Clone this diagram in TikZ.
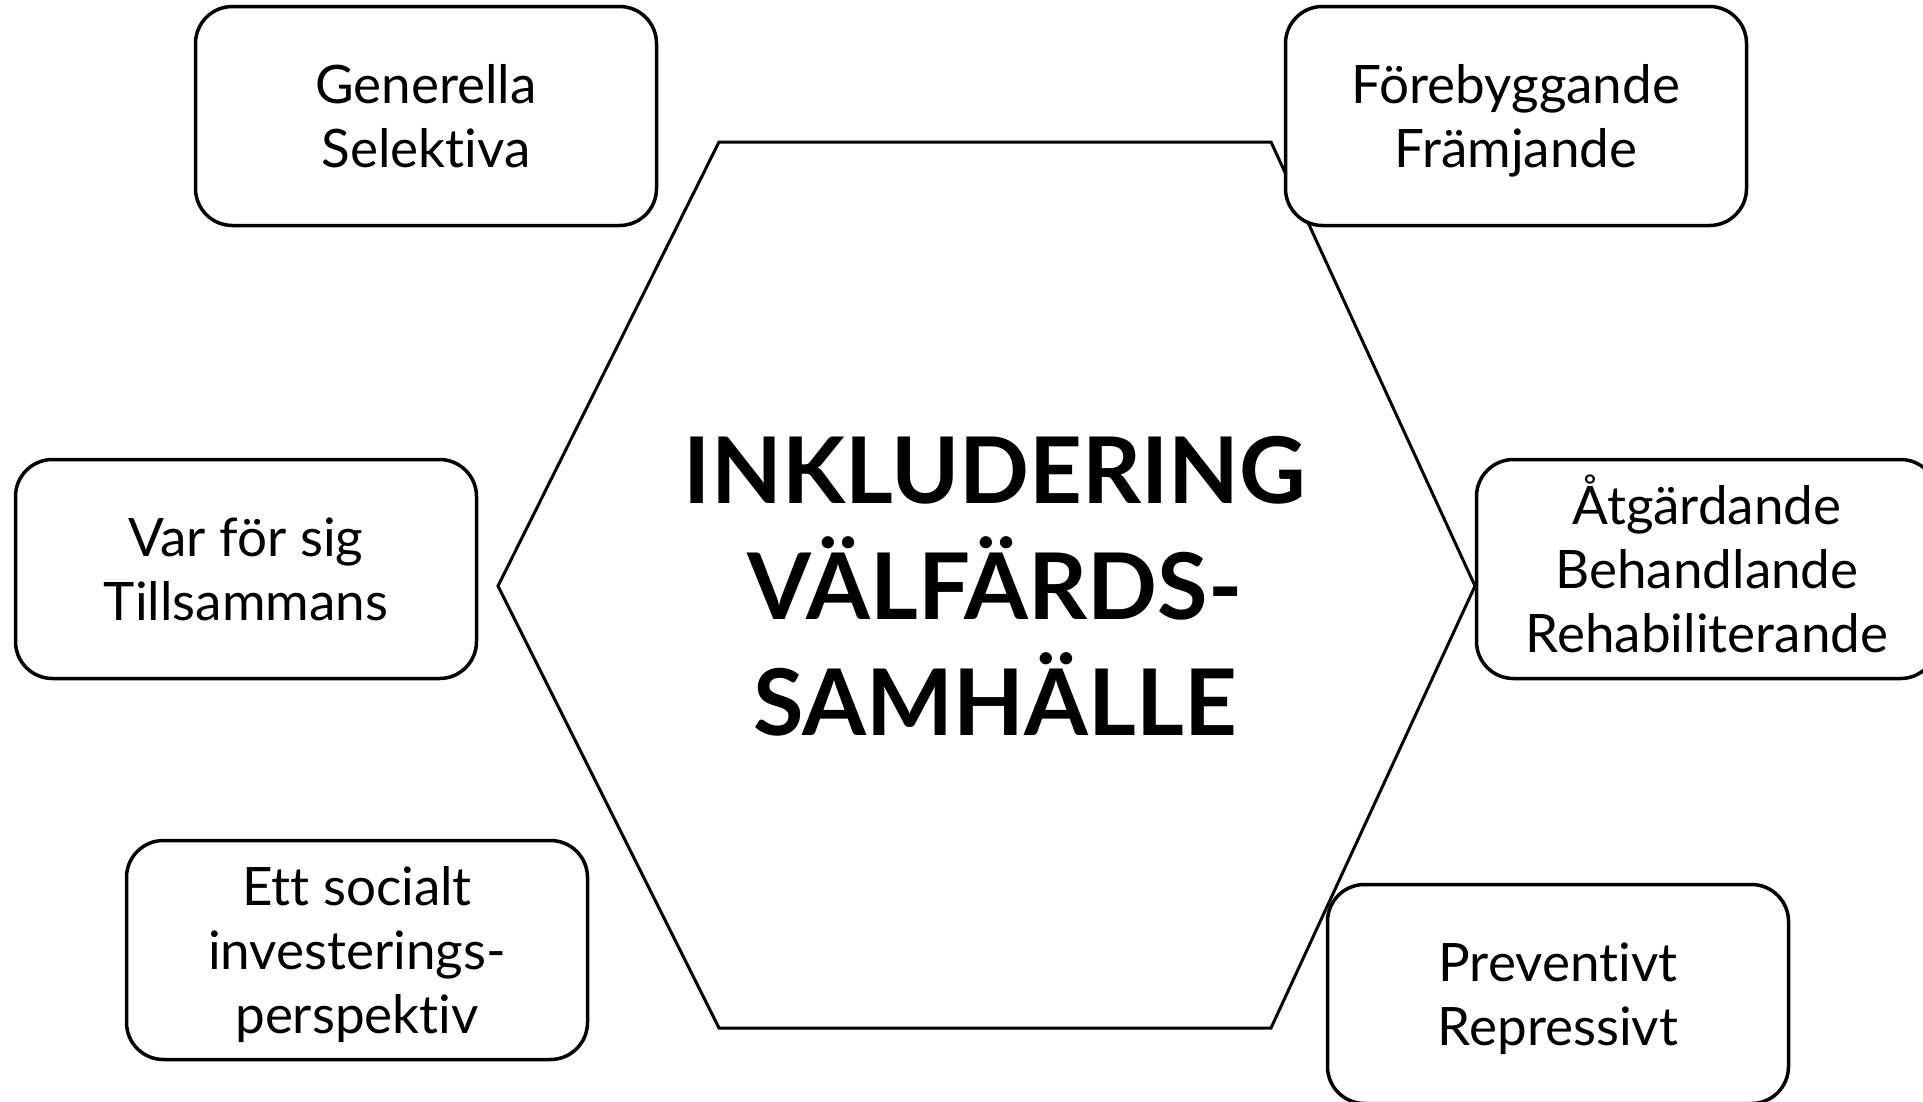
\documentclass[tikz,border=0pt]{standalone}
\usepackage{fontspec}
\setmainfont{Lato}[Ligatures=NoCommon]
\newcommand{\lnstrut}{\rule[-17pt]{0pt}{72pt}}
\setlength{\lineskiplimit}{-100pt}
\begin{document}
\begin{tikzpicture}[x=1pt,y=-1pt,
  box/.style={draw=black, line width=3.5pt, fill=white, rounded corners=37pt,
    minimum width=461pt, minimum height=219pt, align=center, inner sep=0pt,
    font=\fontsize{53}{64}\selectfont},
  title/.style={align=center, font=\fontsize{92}{116}\selectfont\bfseries}]
\useasboundingbox (0,0) rectangle (1923,1101);
\fill[white] (0,0) rectangle (1923,1101);
% hexagon
\coordinate (h1) at (719,142);
\coordinate (h2) at (1271,142);
\coordinate (h3) at (1475,586);
\coordinate (h4) at (1271,1028);
\coordinate (h5) at (719,1028);
\coordinate (h6) at (498,586);
\draw[line width=3pt, line join=miter] (h1) -- (h2) -- (h3) -- (h4) -- (h5) -- (h6) -- cycle;
\node[title] (center) at (995,586) {INKLUDERING\\VÄLFÄRDS-\\SAMHÄLLE};
\node[box] (b1) at (426,116) {\lnstrut Generella\\\lnstrut Selektiva};
\node[box] (b2) at (1516,116) {\lnstrut Förebyggande\\\lnstrut Främjande};
\node[box] (b3) at (246,569) {\lnstrut Var för sig\\\lnstrut Tillsammans};
\node[box] (b4) at (1707,569) {\lnstrut Åtgärdande\\\lnstrut Behandlande\\\lnstrut Rehabiliterande};
\node[box] (b5) at (357,950) {\lnstrut Ett socialt\\\lnstrut investerings-\\\lnstrut perspektiv};
\node[box] (b6) at (1558,994) {\lnstrut Preventivt\\\lnstrut Repressivt};
\end{tikzpicture}
\end{document}
